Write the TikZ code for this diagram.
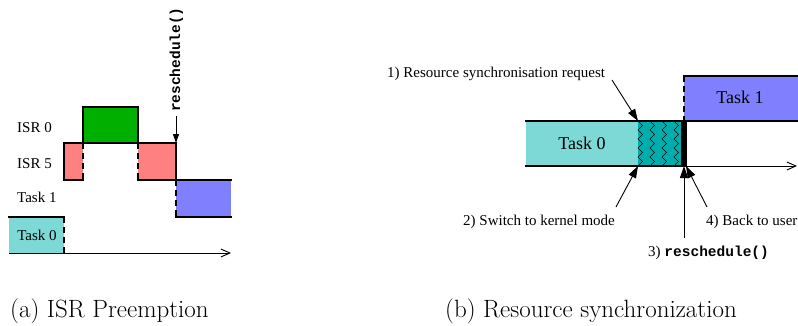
\documentclass[tikz,border=0pt]{standalone}
\usepackage{fontspec}
\newfontfamily\tms{Liberation Serif}
\newfontfamily\crb{Liberation Mono}
\usetikzlibrary{arrows.meta}

\definecolor{taskzero}{RGB}{125,217,214}
\definecolor{taskone}{RGB}{128,128,255}
\definecolor{isrzero}{RGB}{0,176,0}
\definecolor{isrfive}{RGB}{255,128,128}
\definecolor{kernel}{RGB}{0,173,173}

\tikzset{
  edge/.style={line width=1.1pt, line cap=rect},
  dashedge/.style={line width=1.1pt, dash pattern=on 6pt off 4pt},
  axis/.style={line width=0.9pt, -{Straight Barb[length=9pt,width=8pt,line width=0.9pt]}},
  pointer/.style={line width=0.9pt, -{Triangle[length=12pt,width=8pt]}},
  zz/.style={line width=0.5pt, line join=miter},
  lbla/.style={inner sep=0pt, font=\tms\fontsize{15}{18}\selectfont},
  lblb/.style={inner sep=0pt, font=\tms\fontsize{18}{21}\selectfont},
  note/.style={inner sep=0pt, font=\tms\fontsize{15}{18}\selectfont},
  code/.style={font=\crb\bfseries\fontsize{14.5}{17}\selectfont},
  caption/.style={inner sep=0pt, anchor=base west, font=\fontsize{25}{29}\selectfont}
}

\begin{document}
\begin{tikzpicture}[x=1pt,y=-1pt]
\useasboundingbox (0,0) rectangle (798,325);
\clip (0,0) rectangle (798,325);

% ---------- (a) ISR preemption ----------
\fill[taskzero] (9,217) rectangle (64,253);
\fill[isrfive]  (64,143) rectangle (83,180);
\fill[isrzero]  (83,107) rectangle (138,143);
\fill[isrfive]  (138,143) rectangle (176,180);
\fill[taskone]  (176,180) rectangle (231,217);

\draw[edge] (9,217) -- (64,217);
\draw[dashedge] (64,217) -- (64,253);
\draw[edge] (64,180) -- (64,143) -- (176,143);
\draw[edge] (83,143) -- (83,107) -- (138,107) -- (138,143);
\draw[edge] (64,180) -- (83,180);
\draw[dashedge] (83,143) -- (83,180);
\draw[dashedge] (138,143) -- (138,180);
\draw[edge] (138,180) -- (231,180);
\draw[line width=2pt] (176,143) -- (176,180);
\draw[dashedge] (176,180) -- (176,217);
\draw[edge] (176,217) -- (231,217);

\coordinate (axa0) at (9,253);
\coordinate (axa1) at (231,253);
\draw[axis] (axa0) -- (axa1);

\node[lbla, anchor=base west] (isr0) at (17,132) {ISR 0};
\node[lbla, anchor=base west] (isr5) at (17,168) {ISR 5};
\node[lbla, anchor=base west] (t1a)  at (17,202) {Task 1};
\node[lbla, anchor=base]      (t0a)  at (37,240) {Task 0};

\node[code, inner sep=0pt, rotate=90, anchor=base west] (rsa) at (180,112) {reschedule()};
\coordinate (rsatip) at (176,143);
\draw[pointer, -{Triangle[length=9pt,width=6pt]}] (176,116) -- (rsatip);

% ---------- (b) resource synchronization ----------
\fill[taskzero] (526,121) rectangle (638,166);
\fill[kernel]   (638,121) rectangle (682,166);
\fill[black]    (681,121) rectangle (687,166);
\fill[taskone]  (684,76) rectangle (800,121);

\foreach \x in {638,650,662,674}{
  \draw[zz] (\x,121) -- ++(4.5,4.5) -- ++(-4.5,4.5) -- ++(4.5,4.5) -- ++(-4.5,4.5)
    -- ++(4.5,4.5) -- ++(-4.5,4.5) -- ++(4.5,4.5) -- ++(-4.5,4.5)
    -- ++(4.5,4.5) -- ++(-4.5,4.5);
}

\draw[edge] (526,121) -- (800,121);
\draw[edge] (526,166) -- (686,166);
\draw[edge] (684,76) -- (800,76);
\draw[dashedge] (684,76) -- (684,121);

\coordinate (axb0) at (686,166);
\coordinate (axb1) at (797,166);
\draw[axis] (axb0) -- (axb1);

\node[lblb] (t0b) at (582,143) {Task 0};
\node[lblb] (t1b) at (740,97) {Task 1};

\node[note, anchor=base west] (n1) at (387,77) {1) Resource synchronisation request};
\node[note, anchor=base west] (n2) at (463,225) {2) Switch to kernel mode};
\node[note, anchor=base west] (n4) at (706,225) {4) Back to user};
\node[note, anchor=base west] (n3) at (648,256) {3) {\crb\bfseries\fontsize{14.5}{17}\selectfont reschedule()}};

\coordinate (p1) at (612,80);   \coordinate (q1) at (638,121);
\coordinate (p2) at (616,207);  \coordinate (q2) at (638,166);
\coordinate (p3) at (684,238);  \coordinate (q3) at (684,166);
\coordinate (p4) at (707,207);  \coordinate (q4) at (686,166);
\draw[pointer] (p1) -- (q1);
\draw[pointer] (p2) -- (q2);
\draw[pointer] (p3) -- (q3);
\draw[pointer] (p4) -- (q4);

% ---------- captions ----------
\node[caption] (capa) at (10,317) {(a) ISR Preemption};
\node[caption] (capb) at (445,317) {(b) Resource synchronization};
\end{tikzpicture}
\end{document}
